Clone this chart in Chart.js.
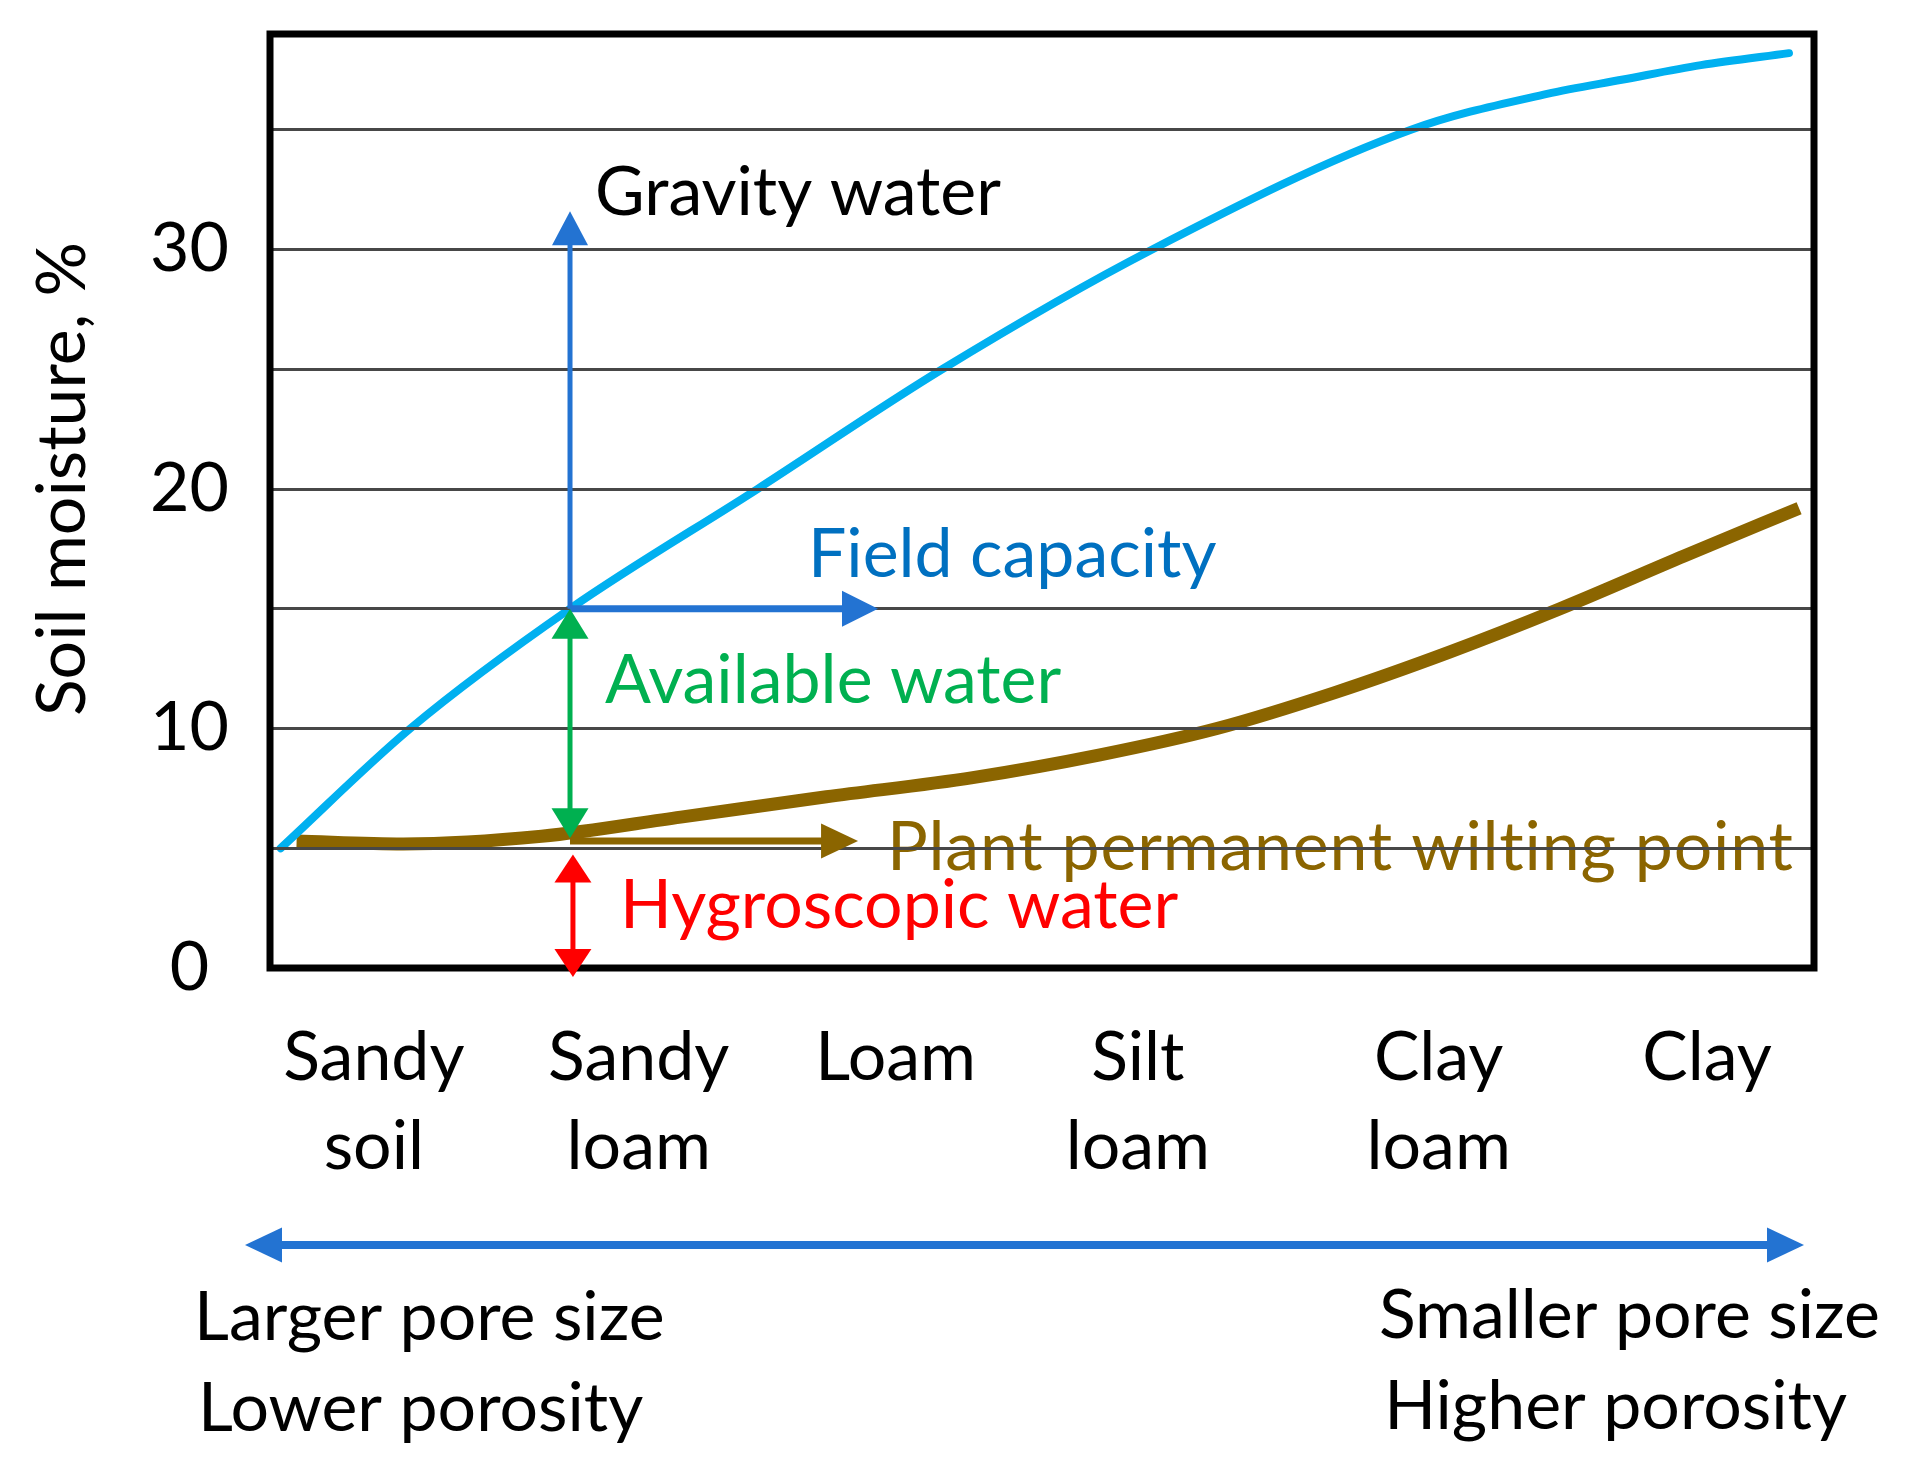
<!DOCTYPE html>
<html><head><meta charset="utf-8">
<script src="https://cdn.jsdelivr.net/npm/chart.js@4.4.1/dist/chart.umd.min.js"></script>
<style>html,body{margin:0;padding:0;background:#fff}canvas{display:block}</style>
</head><body>
<canvas id="c" width="1905" height="1459"></canvas>
<script>
// ---------- data ----------
const categories = [['Sandy','soil'],['Sandy','loam'],['Loam'],['Silt','loam'],['Clay','loam'],['Clay']];
const categoryPositions = [0.39, 1.385, 2.35, 3.26, 4.39, 5.398];
const yTickLabels = [0, 10, 20, 30];
const fieldCapacityX = [0.04, 0.527, 1.127, 1.831, 2.525, 3.314, 4.286, 4.797, 5.083, 5.375, 5.706];
const fieldCapacityY = [5.0, 10, 15, 20, 25, 30, 35, 36.5, 37.1, 37.7, 38.2];
const wiltingX = [0.10, 0.50, 1.02, 1.543, 2.09, 2.64, 3.118, 3.557, 4.0, 4.433, 4.846, 5.312, 5.744];
const wiltingY = [5.3, 5.18, 5.5, 6.3, 7.15, 7.95, 8.9, 10, 11.5, 13.2, 15, 17.2, 19.2];
const yAxisTitle = 'Soil moisture, %';
const bottomLeftText = ['Larger pore size', 'Lower porosity'];
const bottomRightText = ['Smaller pore size', 'Higher porosity'];

// annotation arrows (data units) and labels
const arrowFrom = [[1.127,15],[1.127,15],[1.127,15],[1.127,5.3],[1.138,4.74]];
const arrowTo   = [[1.127,31.6],[2.284,15],[1.127,5.42],[2.209,5.3],[1.138,-0.38]];
const labelText = ['Gravity water','Field capacity','Available water','Plant permanent wilting point','Hygroscopic water'];
const labelAt   = [[1.221,31.44],[2.021,16.33],[1.258,11.06],[2.318,4.09],[1.315,1.67]];

// ---------- styles ----------
const FONT = 'Lato, sans-serif';
const FS = 68;
const C_LIGHTBLUE = '#00B0F0', C_BROWN = '#8B6500', C_ARROWBLUE = '#2373D2',
      C_FCTEXT = '#0070C0', C_GREEN = '#00B050', C_RED = '#FF0000';
const arrowStyle = [
  {color:C_ARROWBLUE, width:5, len:34, w:36, start:false, end:true},
  {color:C_ARROWBLUE, width:7, len:36, w:36, start:false, end:true},
  {color:C_GREEN, width:5, len:30, w:37, start:true, end:true},
  {color:C_BROWN, width:7, len:37, w:35, start:false, end:true},
  {color:C_RED, width:5, len:28, w:37, start:true, end:true}
];
const labelColor = ['#000000', C_FCTEXT, C_GREEN, C_BROWN, C_RED];
const labelSpacing = ['0px', '0px', '0px', '0.8px', '0px'];

function drawArrow(ctx, x1, y1, x2, y2, s) {
  const ang = Math.atan2(y2 - y1, x2 - x1), dx = Math.cos(ang), dy = Math.sin(ang);
  let sx = x1, sy = y1, ex = x2, ey = y2;
  if (s.start) { sx += dx * s.len * 0.8; sy += dy * s.len * 0.8; }
  if (s.end) { ex -= dx * s.len * 0.8; ey -= dy * s.len * 0.8; }
  ctx.save();
  ctx.strokeStyle = s.color; ctx.fillStyle = s.color; ctx.lineWidth = s.width; ctx.lineCap = 'butt';
  ctx.beginPath(); ctx.moveTo(sx, sy); ctx.lineTo(ex, ey); ctx.stroke();
  const head = (tx, ty, ux, uy) => {
    const bx = tx - ux * s.len, by = ty - uy * s.len;
    ctx.beginPath(); ctx.moveTo(tx, ty);
    ctx.lineTo(bx - uy * s.w / 2, by + ux * s.w / 2);
    ctx.lineTo(bx + uy * s.w / 2, by - ux * s.w / 2);
    ctx.closePath(); ctx.fill();
  };
  if (s.end) head(x2, y2, dx, dy);
  if (s.start) head(x1, y1, -dx, -dy);
  ctx.restore();
}

function setFont(ctx) {
  ctx.font = FS + 'px ' + FONT;
  try { ctx.textRendering = 'optimizeSpeed'; } catch (e) {}
}

function drawLabel(chart, i) {
  const ctx = chart.ctx, xs = chart.scales.x, ys = chart.scales.y;
  ctx.save();
  setFont(ctx); ctx.fillStyle = labelColor[i];
  try { ctx.letterSpacing = labelSpacing[i]; } catch (e) {}
  ctx.textAlign = 'left'; ctx.textBaseline = 'alphabetic';
  ctx.fillText(labelText[i], xs.getPixelForValue(labelAt[i][0]), ys.getPixelForValue(labelAt[i][1]));
  ctx.restore();
}

const annotPlugin = {
  id: 'annot',
  beforeDraw(chart) {
    // wilting point label sits under the grid line
    drawLabel(chart, 3);
  },
  afterDraw(chart) {
    const ctx = chart.ctx, a = chart.chartArea, xs = chart.scales.x, ys = chart.scales.y;
    // frame
    ctx.save(); ctx.strokeStyle = '#000'; ctx.lineWidth = 7; ctx.lineJoin = 'miter';
    ctx.strokeRect(a.left, a.top, a.right - a.left, a.bottom - a.top); ctx.restore();
    // arrows
    for (let i = 0; i < arrowFrom.length; i++) {
      drawArrow(ctx, xs.getPixelForValue(arrowFrom[i][0]), ys.getPixelForValue(arrowFrom[i][1]),
        xs.getPixelForValue(arrowTo[i][0]), ys.getPixelForValue(arrowTo[i][1]), arrowStyle[i]);
    }
    for (const i of [0, 1, 2, 4]) drawLabel(chart, i);
    // y axis title
    ctx.save(); setFont(ctx); ctx.fillStyle = '#000';
    ctx.translate(85, (a.top + a.bottom) / 2 - 22); ctx.rotate(-Math.PI / 2);
    ctx.textAlign = 'center'; ctx.textBaseline = 'alphabetic'; ctx.fillText(yAxisTitle, 0, 0);
    ctx.restore();
    // porosity arrow and texts
    const ay = a.bottom + 277;
    drawArrow(ctx, a.left - 25, ay, a.right - 10, ay, {color:C_ARROWBLUE, width:8, len:37, w:35, start:true, end:true});
    ctx.save(); setFont(ctx); ctx.fillStyle = '#000'; ctx.textBaseline = 'alphabetic';
    ctx.textAlign = 'left';
    ctx.fillText(bottomLeftText[0], a.left - 76, a.bottom + 372);
    ctx.fillText(bottomLeftText[1], a.left - 72, a.bottom + 463);
    ctx.textAlign = 'right';
    ctx.fillText(bottomRightText[0], a.right + 66, a.bottom + 370);
    ctx.fillText(bottomRightText[1], a.right + 33, a.bottom + 461);
    ctx.restore();
  }
};

const chart = new Chart(document.getElementById('c'), {
  type: 'line',
  data: {
    datasets: [
      { label: 'Field capacity', data: fieldCapacityX.map((x, i) => ({x, y: fieldCapacityY[i]})),
        borderColor: C_LIGHTBLUE, borderWidth: 8, pointRadius: 0, cubicInterpolationMode: 'monotone', borderCapStyle: 'round', fill: false },
      { label: 'Plant permanent wilting point', data: wiltingX.map((x, i) => ({x, y: wiltingY[i]})),
        borderColor: C_BROWN, borderWidth: 13, pointRadius: 0, cubicInterpolationMode: 'monotone', borderCapStyle: 'butt', fill: false }
    ]
  },
  options: {
    responsive: false, animation: false, devicePixelRatio: 1,
    layout: { padding: { top: 34, right: 91, bottom: 0, left: 0 } },
    plugins: { legend: { display: false }, tooltip: { enabled: false } },
    scales: {
      x: {
        type: 'linear', min: 0, max: 5.8,
        grid: { display: false, drawTicks: false }, border: { display: false },
        afterBuildTicks(s) { s.ticks = categoryPositions.map(v => ({ value: v })); },
        afterFit(s) { s.height = 491; s.paddingLeft = 0; s.paddingRight = 0; },
        ticks: { autoSkip: false, maxRotation: 0, minRotation: 0, padding: 46, color: '#000',
          font: { family: FONT, size: FS, lineHeight: 89 / FS },
          callback: (v, i) => categories[i] }
      },
      y: {
        min: 0, max: 39,
        grid: { color: '#474747', lineWidth: 3, drawTicks: false, z: 1 }, border: { display: false },
        afterBuildTicks(s) { s.ticks = s.ticks.filter(t => t.value % 5 === 0); },
        afterFit(s) { s.width = 270; s.paddingTop = 0; s.paddingBottom = 0; },
        ticks: { stepSize: 5, crossAlign: 'center', padding: 41, color: '#000',
          font: { family: FONT, size: FS },
          callback: (v) => yTickLabels.includes(v) ? String(v) : '' }
      }
    }
  },
  plugins: [annotPlugin]
});
</script>
</body></html>
